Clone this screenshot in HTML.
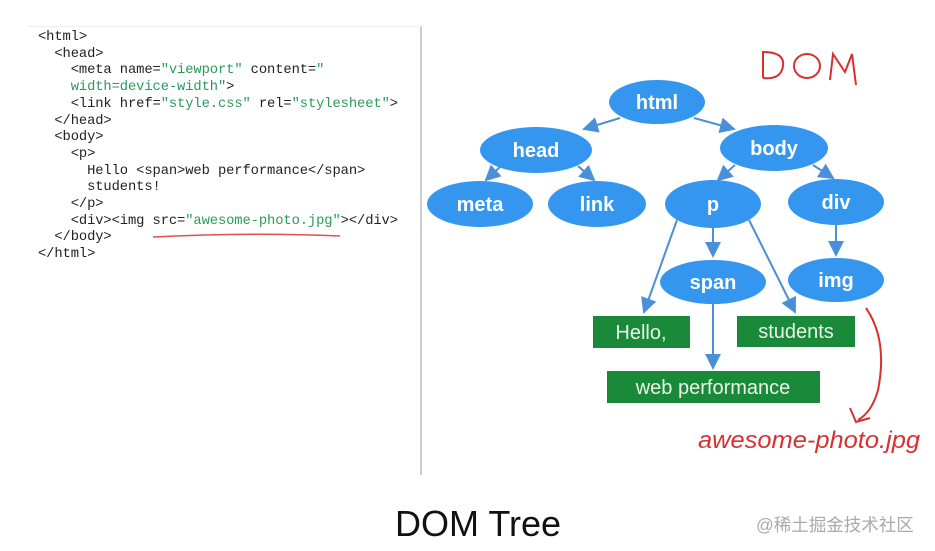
<!DOCTYPE html>
<html><head><meta charset="utf-8"><style>
body{margin:0;width:935px;height:551px;background:#fff;position:relative;overflow:hidden;font-family:"Liberation Sans",sans-serif}
.code{position:absolute;left:28px;top:26px;width:392px;height:448px;border-right:2px solid #ccc;border-top:1px solid #eee;background:#fff}
pre{position:absolute;left:10px;top:3px;margin:0;font:13.8px/16.7px "Liberation Mono",monospace;color:#222;letter-spacing:-0.1px}
.g{color:#2a9a5a}
</style></head><body>
<div class="code"><pre>&lt;html&gt;
  &lt;head&gt;
    &lt;meta name=<span class="g">"viewport"</span> content=<span class="g">"</span>
    <span class="g">width=device-width"</span>&gt;
    &lt;link href=<span class="g">"style.css"</span> rel=<span class="g">"stylesheet"</span>&gt;
  &lt;/head&gt;
  &lt;body&gt;
    &lt;p&gt;
      Hello &lt;span&gt;web performance&lt;/span&gt;
      students!
    &lt;/p&gt;
    &lt;div&gt;&lt;img src=<span class="g">"awesome-photo.jpg"</span>&gt;&lt;/div&gt;
  &lt;/body&gt;
&lt;/html&gt;</pre></div>
<svg width="935" height="551" style="position:absolute;left:0;top:0">
<defs><marker id="a" markerWidth="8" markerHeight="8" refX="7" refY="4" orient="auto"><path d="M0,0L8,4L0,8z" fill="#4a8fd8"/></marker></defs>
<path d="M153,237 Q250,232 340,236" stroke="#e05050" stroke-width="1.5" fill="none"/>
<g stroke="#4a8fd8" stroke-width="2" fill="none" marker-end="url(#a)">
<line x1="620" y1="118" x2="584" y2="129"/>
<line x1="694" y1="118" x2="734" y2="129"/>
<line x1="500" y1="167" x2="486" y2="180"/>
<line x1="578" y1="166" x2="594" y2="180"/>
<line x1="735" y1="165" x2="718" y2="180"/>
<line x1="813" y1="165" x2="833" y2="178"/>
<line x1="677" y1="220" x2="644" y2="312"/>
<line x1="713" y1="227" x2="713" y2="256"/>
<line x1="749" y1="220" x2="795" y2="312"/>
<line x1="836" y1="225" x2="836" y2="255"/>
<line x1="713" y1="304" x2="713" y2="368"/>
</g>
<g fill="#3596f0">
<ellipse cx="657" cy="102" rx="48" ry="22"/>
<ellipse cx="536" cy="150" rx="56" ry="23"/>
<ellipse cx="774" cy="148" rx="54" ry="23"/>
<ellipse cx="480" cy="204" rx="53" ry="23"/>
<ellipse cx="597" cy="204" rx="49" ry="23"/>
<ellipse cx="713" cy="204" rx="48" ry="24"/>
<ellipse cx="836" cy="202" rx="48" ry="23"/>
<ellipse cx="713" cy="282" rx="53" ry="22"/>
<ellipse cx="836" cy="280" rx="48" ry="22"/>
</g>
<g fill="#fff" font-weight="bold" font-size="20" text-anchor="middle">
<text x="657" y="109">html</text><text x="536" y="157">head</text><text x="774" y="155">body</text>
<text x="480" y="211">meta</text><text x="597" y="211">link</text><text x="713" y="211">p</text>
<text x="836" y="209">div</text><text x="713" y="289">span</text><text x="836" y="287">img</text>
</g>
<g fill="#1a8a3a"><rect x="593" y="316" width="97" height="32"/><rect x="737" y="316" width="118" height="31"/><rect x="607" y="371" width="213" height="32"/></g>
<g fill="#e8f5e8" font-size="20" text-anchor="middle">
<text x="641" y="339">Hello,</text><text x="796" y="338">students</text><text x="713" y="394">web performance</text>
</g>
<g fill="none" stroke="#d83030" stroke-width="2">
<path d="M763,78 L763,52 Q785,52 783,66 Q781,80 763,78"/>
<ellipse cx="807" cy="66" rx="13" ry="12"/>
<path d="M830,80 L833,54 L845,72 L852,54 L856,85"/>
<path d="M866,308 Q888,340 878,390 Q872,412 858,420 M850,408 L856,422 L870,418"/>
</g>
<text x="698" y="448" fill="#d83030" font-size="24" font-style="italic" textLength="222" lengthAdjust="spacingAndGlyphs">awesome-photo.jpg</text>
</svg>
<div style="position:absolute;left:0;width:956px;text-align:center;top:503px;font-size:36px;color:#111">DOM Tree</div>
<div style="position:absolute;left:756px;top:512px;font-size:17.5px;color:#aaa;font-family:'Liberation Sans','Noto Sans CJK SC',sans-serif">@稀土掘金技术社区</div>
</body></html>
